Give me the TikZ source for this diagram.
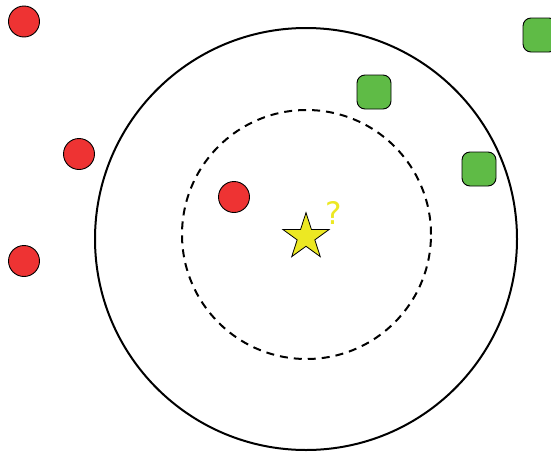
\documentclass[tikz,border=0pt]{standalone}
\usepackage{fontspec}
\setmainfont{DejaVu Sans}
\usetikzlibrary{shapes.geometric}
\definecolor{redc}{HTML}{EE3333}
\definecolor{greenc}{HTML}{5FBB46}
\definecolor{yellowc}{HTML}{ECE823}
\begin{document}
\begin{tikzpicture}[x=1pt,y=-1pt,
  redpt/.style={circle,draw=black,line width=0.9pt,fill=redc,minimum size=31pt,inner sep=0pt},
  greenpt/.style={rectangle,rounded corners=8pt,draw=black,line width=0.9pt,fill=greenc,minimum size=34pt,inner sep=0pt},
  ring/.style={draw=black,line width=2pt}]
\useasboundingbox (0,0) rectangle (551,453);
\node[ring,circle,minimum size=422pt,inner sep=0pt] (outer) at (306,239) {};
\node[ring,circle,dash pattern=on 8pt off 6pt,minimum size=249pt,inner sep=0pt] (inner) at (306.5,234.5) {};
\node[redpt] (r1) at (24,21.5) {};
\node[redpt] (r2) at (79,154) {};
\node[redpt] (r3) at (24,261) {};
\node[redpt] (r4) at (234,197) {};
\node[greenpt] (g1) at (374,92) {};
\node[greenpt] (g2) at (479,169) {};
\node[greenpt] (g3) at (540,35) {};
\node[star,star points=5,star point ratio=2.618,minimum size=48.6pt,inner sep=0pt,draw=black,line width=0.8pt,fill=yellowc] (s) at (306,237) {};
\node[text=yellowc,font=\fontsize{31}{36}\selectfont,inner sep=0pt] (q) at (333.5,213) {?};
\end{tikzpicture}
\end{document}
